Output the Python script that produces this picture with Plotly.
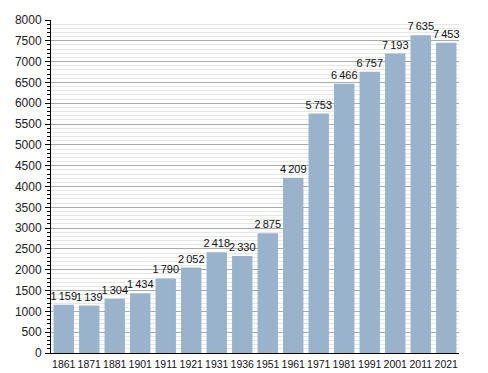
import plotly.graph_objects as go

years = ["1861", "1871", "1881", "1901", "1911", "1921", "1931", "1936",
         "1951", "1961", "1971", "1981", "1991", "2001", "2011", "2021"]
population = [1159, 1139, 1304, 1434, 1790, 2052, 2418, 2330,
              2875, 4209, 5753, 6466, 6757, 7193, 7635, 7453]
labels = [f"{v:,}".replace(",", "\u2009") for v in population]

fig = go.Figure()
fig.add_trace(go.Bar(
    x=years, y=population, text=labels, textposition="outside",
    constraintext="none", cliponaxis=False,
    textfont=dict(family="Liberation Sans, Arial", size=11, color="#111"),
    marker=dict(color="#99b3cd", line=dict(width=0)),
))
fig.update_layout(
    width=488, height=373,
    margin=dict(l=51, r=29, t=20, b=20),
    paper_bgcolor="white", plot_bgcolor="white",
    bargap=0.2, showlegend=False,
    font=dict(family="Liberation Sans, Arial", size=11, color="#222"),
)
fig.update_xaxes(
    type="category", showgrid=False, showline=True, linecolor="black", linewidth=1,
    ticks="", tickangle=0, automargin=False,
    tickfont=dict(size=10.5, color="#111"), ticklabelstandoff=1,
)
fig.update_yaxes(
    range=[0, 8000], dtick=500, showgrid=True, gridcolor="#aaaaaa", gridwidth=1,
    showline=True, linecolor="black", linewidth=1, ticks="outside", ticklen=5,
    tickcolor="black", zeroline=False, automargin=False,
    minor=dict(dtick=100, showgrid=True, gridcolor="#e6e6e6", ticks="outside",
               ticklen=3, tickcolor="black"),
    tickfont=dict(size=12, color="#222"), ticklabelstandoff=1,
)
fig.write_html("out.html", config={"displayModeBar": False},
               post_script="document.body.style.margin='0';")
